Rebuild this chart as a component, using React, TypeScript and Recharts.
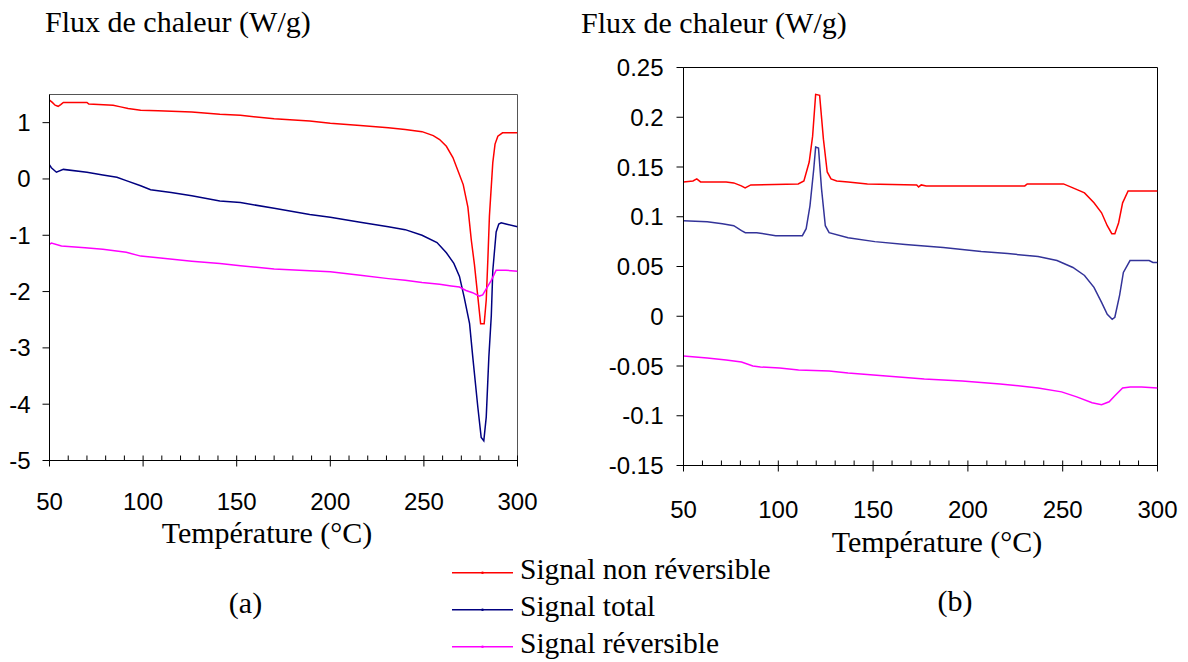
import React from "react";
import { LineChart, Line, XAxis, YAxis, ReferenceArea } from "recharts";

// [température °C, flux W/g]
const aNonRev = [
  [50, 1.4], [51.5, 1.36], [53, 1.31], [54.6, 1.29], [56, 1.32], [57.4, 1.36], [70, 1.36], [71, 1.33],
  [84, 1.31], [88, 1.28], [92, 1.25], [98.7, 1.22], [108, 1.21], [126, 1.19], [141, 1.15], [152, 1.13],
  [170, 1.07], [189, 1.03], [200, 0.99], [216, 0.95], [231, 0.91], [240, 0.88], [249, 0.84], [255, 0.77],
  [258.4, 0.7], [262, 0.58], [265.5, 0.38], [268.5, 0.12], [271, -0.1], [273.5, -0.5], [275.3, -1.08],
  [277, -1.52], [278.8, -2.09], [280.3, -2.57], [282.2, -2.57], [283.3, -2.15], [284.2, -1.4], [285, -0.66],
  [286.8, 0.29], [288, 0.62], [289.5, 0.76], [292, 0.82], [300, 0.82],
];
const aTotal = [
  [50, 0.25], [51, 0.2], [53.7, 0.12], [57.4, 0.17], [70, 0.12], [78.5, 0.07], [86, 0.03], [91, -0.03],
  [98.7, -0.12], [104, -0.19], [115, -0.24], [126, -0.3], [141, -0.39], [152, -0.42], [170, -0.52],
  [189, -0.63], [200, -0.68], [216, -0.77], [231, -0.85], [240, -0.9], [249, -1.0], [257, -1.13],
  [262, -1.31], [266, -1.5], [269, -1.73], [271.5, -2.1], [274.4, -2.57], [276.1, -3.16], [278.8, -4.05],
  [280.6, -4.59], [282, -4.65], [283.3, -4.23], [284.7, -3.16], [286, -2.43], [286.8, -1.63],
  [288.6, -0.94], [290, -0.8], [291.3, -0.78], [293.8, -0.8], [300, -0.85],
];
const aRev = [
  [50, -1.16], [51, -1.14], [56.4, -1.19], [69, -1.22], [78.5, -1.25], [91, -1.3], [98.7, -1.37],
  [108, -1.4], [126, -1.46], [141, -1.5], [152, -1.54], [170, -1.6], [189, -1.63], [200, -1.65],
  [216, -1.71], [231, -1.77], [240, -1.8], [249, -1.84], [258.4, -1.87], [264.6, -1.9], [269, -1.92],
  [272.5, -1.98], [276, -2.02], [279.6, -2.08], [281.4, -2.06], [283.3, -1.95], [286, -1.8],
  [288.6, -1.62], [293.8, -1.62], [300, -1.64],
];

const bNonRev = [
  [50, 0.135], [55, 0.136], [57, 0.138], [59, 0.135], [72.5, 0.135], [76.5, 0.134], [80.5, 0.131],
  [82.5, 0.129], [85.5, 0.132], [110.5, 0.133], [113.5, 0.136], [116.3, 0.155], [118.1, 0.181],
  [119.7, 0.223], [121.8, 0.222], [123.8, 0.178], [125.8, 0.145], [127.8, 0.138], [130.8, 0.136],
  [136.8, 0.135], [147, 0.133], [173, 0.132], [174, 0.13], [175.4, 0.132], [178, 0.131], [230, 0.131],
  [231.3, 0.133], [250.4, 0.133], [255.4, 0.129], [261.5, 0.124], [266.5, 0.114], [270.5, 0.104],
  [273.5, 0.091], [275.9, 0.083], [277.5, 0.083], [279.5, 0.094], [281.6, 0.114], [284.5, 0.126],
  [300, 0.126],
];
const bTotal = [
  [50, 0.096], [62.5, 0.095], [70.5, 0.093], [76.5, 0.091], [80.6, 0.086], [82.6, 0.084], [88.6, 0.084],
  [98.6, 0.081], [112.7, 0.081], [114.7, 0.088], [116.7, 0.111], [118.7, 0.148], [119.7, 0.17],
  [121.2, 0.169], [122.8, 0.128], [124.8, 0.091], [126.8, 0.084], [136.8, 0.079], [150.9, 0.075],
  [167, 0.072], [187, 0.069], [207, 0.065], [221, 0.063], [237, 0.06], [247, 0.056], [255.4, 0.049],
  [261.5, 0.041], [266.5, 0.029], [270.5, 0.014], [273.5, 0.002], [276.1, -0.003], [277.5, -0.001],
  [280, 0.021], [282, 0.044], [285.5, 0.056], [295.6, 0.056], [297.6, 0.054], [300, 0.054],
];
const bRev = [
  [50, -0.04], [62.5, -0.042], [72.5, -0.044], [80.6, -0.046], [86.6, -0.05], [90.6, -0.051],
  [100.7, -0.052], [110.7, -0.054], [126.8, -0.055], [136.8, -0.057], [156.9, -0.06], [177, -0.063],
  [197, -0.065], [217, -0.068], [237, -0.072], [249.4, -0.076], [257.4, -0.081], [265.5, -0.087],
  [270.5, -0.089], [274.5, -0.086], [277.5, -0.08], [281.6, -0.072], [285.6, -0.071], [291.6, -0.071],
  [300, -0.072],
];

const xTicks = [50, 60, 70, 80, 90, 100, 110, 120, 130, 140, 150, 160, 170, 180, 190, 200, 210, 220, 230, 240, 250, 260, 270, 280, 290, 300];
const aYTicks = [-5, -4, -3, -2, -1, 0, 1];
const bYTicks = [-0.15, -0.1, -0.05, 0, 0.05, 0.1, 0.15, 0.2, 0.25];

const seriesNames = ["Signal non réversible", "Signal total", "Signal réversible"];
const seriesColors = ["#ff0000", "#000080", "#ff00ff"];

const ARIAL = "Arial, 'Liberation Sans', sans-serif";
const TIMES = "'Times New Roman', 'Liberation Serif', serif";

const rows = (pts: number[][]) => pts.map(([t, v]) => ({ t, v }));

function XTick(props: any) {
  const { x, y, payload, labelDrop } = props;
  const major = payload.value % 50 === 0;
  return (
    <g>
      <line x1={x} x2={x} y1={y - 5} y2={major ? y + 6 : y} stroke="#000" strokeWidth={1} />
      {major && (
        <text x={x} y={y + labelDrop} textAnchor="middle" fontSize={24} fontFamily={ARIAL} fill="#000">
          {payload.value}
        </text>
      )}
    </g>
  );
}

function Panel(props: {
  width: number;
  height: number;
  margin: { top: number; right: number; left: number; bottom: number };
  yWidth: number;
  domain: [number, number];
  yTicks: number[];
  series: number[][][];
  colors: string[];
  frame: string;
  labelGap: number;
  labelDrop: number;
}) {
  const { width, height, margin, yWidth, domain, yTicks, series, colors, frame, labelGap, labelDrop } = props;
  return (
    <LineChart width={width} height={height} margin={margin}>
      <XAxis
        type="number"
        dataKey="t"
        domain={[50, 300]}
        ticks={xTicks}
        interval={0}
        tickSize={0}
        tickMargin={0}
        tickLine={false}
        tick={<XTick labelDrop={labelDrop} />}
        height={40}
        axisLine={{ stroke: "#000", strokeWidth: 1 }}
        allowDataOverflow
      />
      <YAxis
        type="number"
        domain={domain}
        ticks={yTicks}
        interval={0}
        width={yWidth}
        tickSize={7}
        tickMargin={labelGap}
        axisLine={{ stroke: "#000", strokeWidth: 1 }}
        tickLine={{ stroke: "#000" }}
        tick={{ fill: "#000", fontSize: 24, fontFamily: ARIAL }}
        allowDataOverflow
      />
      <ReferenceArea
        x1={50}
        x2={300}
        y1={domain[0]}
        y2={domain[1]}
        fill="none"
        fillOpacity={0}
        stroke={frame}
        strokeWidth={1}
        strokeOpacity={1}
        ifOverflow="visible"
      />
      {series.map((pts, i) => (
        <Line
          key={seriesNames[i]}
          name={seriesNames[i]}
          data={rows(pts)}
          dataKey="v"
          type="linear"
          stroke={colors[i]}
          strokeWidth={1.5}
          dot={false}
          isAnimationActive={false}
        />
      ))}
    </LineChart>
  );
}

export default function App() {
  return (
    <div style={{ position: "absolute", left: 0, top: 0, width: 1188, height: 662, background: "#fff", overflow: "hidden" }}>
      <div style={{ position: "absolute", left: 0, top: 0 }}>
        <Panel
          width={540}
          height={530}
          margin={{ top: 94.5, right: 22.5, left: 0.5, bottom: 29.5 }}
          yWidth={49}
          domain={[-5, 1.5]}
          yTicks={aYTicks}
          series={[aNonRev, aTotal, aRev]}
          colors={seriesColors}
          frame="#555555"
          labelGap={12}
          labelDrop={49}
        />
      </div>
      <div style={{ position: "absolute", left: 560, top: 0 }}>
        <Panel
          width={620}
          height={530}
          margin={{ top: 67.5, right: 22.5, left: 0.5, bottom: 24.5 }}
          yWidth={123}
          domain={[-0.15, 0.25]}
          yTicks={bYTicks}
          series={[bNonRev, bTotal, bRev]}
          colors={["#ff0000", "#333399", "#ff00ff"]}
          frame="#000"
          labelGap={13}
          labelDrop={52}
        />
      </div>
      <svg width={1188} height={662} style={{ position: "absolute", left: 0, top: 0, pointerEvents: "none" }}>
        <g fontFamily={TIMES} fill="#000">
          <text x={45} y={32} fontSize={30}>Flux de chaleur (W/g)</text>
          <text x={581} y={33} fontSize={30}>Flux de chaleur (W/g)</text>
          <text x={267} y={543} fontSize={30} textAnchor="middle">Température (°C)</text>
          <text x={937} y={552} fontSize={30} textAnchor="middle">Température (°C)</text>
          <text x={245.5} y={613} fontSize={30} textAnchor="middle">(a)</text>
          <text x={955} y={611} fontSize={30} textAnchor="middle">(b)</text>
        </g>
        {seriesNames.map((name, i) => {
          const y = 572.7 + i * 37;
          return (
            <g key={name}>
              <line x1={452} x2={513} y1={y} y2={y} stroke={seriesColors[i]} strokeWidth={1.5} />
              <circle cx={482.5} cy={y} r={1.3} fill={seriesColors[i]} />
              <text x={520} y={y + 6.6} fontSize={29.5} fontFamily={TIMES} fill="#000">
                {name}
              </text>
            </g>
          );
        })}
      </svg>
    </div>
  );
}
